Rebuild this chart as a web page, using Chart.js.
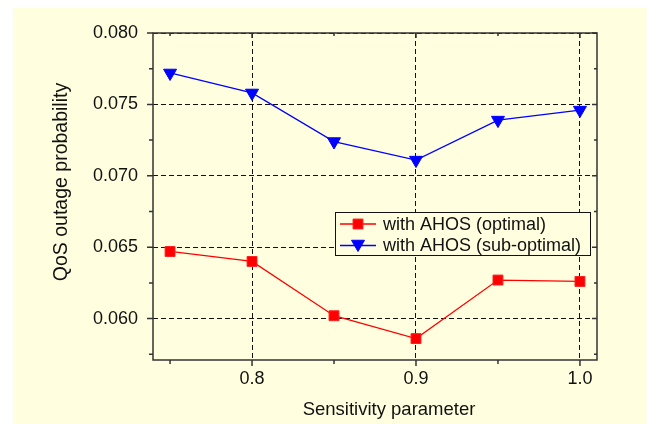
<!DOCTYPE html>
<html>
<head>
<meta charset="utf-8">
<script src="https://cdn.jsdelivr.net/npm/chart.js@4.4.1/dist/chart.umd.min.js"></script>
<style>
  body { margin: 0; background: #fff; }
  canvas { display: block; }
</style>
</head>
<body>
<canvas id="qosChart" width="647" height="424"></canvas>
<script>
const xValues = [0.75, 0.8, 0.85, 0.9, 0.95, 1.0];
const optimal = [0.0647, 0.0640, 0.0602, 0.0586, 0.0627, 0.0626];
const subOptimal = [0.0772, 0.0758, 0.0724, 0.0711, 0.0739, 0.0746];
const seriesNames = ["with AHOS (optimal)", "with AHOS (sub-optimal)"];
const xMajorTicks = [0.8, 0.9, 1.0];
const xMinorTicks = [0.75, 0.85, 0.95];
const yMajorTicks = [0.060, 0.065, 0.070, 0.075, 0.080];
const yMinorTicks = [0.0575, 0.0625, 0.0675, 0.0725, 0.0775];
const xTitle = "Sensitivity parameter";
const yTitle = "QoS outage probability";

const FONT = "'Liberation Sans', Arial, sans-serif";
const BG = "#FFFFE0";

function inList(v, list) {
    return list.some(m => Math.abs(m - v) < 1e-9);
}

function toPoints(ys) {
    return xValues.map((x, i) => ({ x: x, y: ys[i] }));
}

// yellow page, frame, tick marks, axis titles and the boxed legend
const decor = {
    id: "decor",
    beforeDraw(chart) {
        let ctx = chart.ctx;
        ctx.save();
        ctx.fillStyle = "#fff";
        ctx.fillRect(0, 0, chart.width, chart.height);
        ctx.fillStyle = BG;
        ctx.fillRect(13, 8, chart.width - 13, chart.height - 8);
        ctx.restore();
    },
    afterDraw(chart) {
        let ctx = chart.ctx;
        let a = chart.chartArea;
        let xs = chart.scales.x, ys = chart.scales.y;
        ctx.save();
        ctx.strokeStyle = "#333";
        ctx.lineWidth = 1.5;
        ctx.strokeRect(a.left, a.top, a.right - a.left, a.bottom - a.top);

        ctx.beginPath();
        xMajorTicks.concat(xMinorTicks).forEach(v => {
            let p = xs.getPixelForValue(v);
            let major = inList(v, xMajorTicks);
            ctx.moveTo(p, a.bottom); ctx.lineTo(p, a.bottom + (major ? 6 : 4));
            ctx.moveTo(p, a.top); ctx.lineTo(p, a.top + (major ? 5 : 3));
        });
        yMajorTicks.concat(yMinorTicks).forEach(v => {
            let p = ys.getPixelForValue(v);
            let major = inList(v, yMajorTicks);
            ctx.moveTo(a.left, p); ctx.lineTo(a.left - (major ? 6 : 4), p);
            ctx.moveTo(a.right, p); ctx.lineTo(a.right - (major ? 5 : 3), p);
        });
        ctx.stroke();

        // axis titles
        ctx.fillStyle = "#111";
        ctx.textAlign = "center";
        ctx.textBaseline = "alphabetic";
        ctx.font = "18.5px " + FONT;
        ctx.fillText(xTitle, 389, 415);
        ctx.translate(67, 182);
        ctx.rotate(-Math.PI / 2);
        ctx.font = "19.5px " + FONT;
        ctx.fillText(yTitle, 0, 0);
        ctx.restore();

        // legend
        ctx.save();
        let box = { x: 335.5, y: 212.5, w: 255, h: 43 };
        ctx.fillStyle = BG;
        ctx.fillRect(box.x, box.y, box.w, box.h);
        ctx.strokeStyle = "#111";
        ctx.lineWidth = 1;
        ctx.strokeRect(box.x, box.y, box.w, box.h);
        ctx.font = "18px " + FONT;
        ctx.textAlign = "left";
        ctx.textBaseline = "middle";
        chart.data.datasets.forEach((ds, i) => {
            let cy = 224 + i * 21.5;
            ctx.strokeStyle = ds.borderColor;
            ctx.lineWidth = 1.3;
            ctx.beginPath();
            ctx.moveTo(340, cy); ctx.lineTo(376, cy);
            ctx.stroke();
            ctx.fillStyle = ds.pointBackgroundColor;
            ctx.strokeStyle = ds.pointBorderColor;
            ctx.lineWidth = 1;
            Chart.helpers.drawPoint(ctx, {
                pointStyle: ds.pointStyle,
                radius: ds.pointRadius,
                rotation: ds.pointRotation,
                borderWidth: 1
            }, 358, cy + (ds.pointStyle === "triangle" ? -1.5 : 0));
            ctx.fillStyle = "#111";
            ctx.fillText(ds.label, 383, cy + 1);
        });
        ctx.restore();
    }
};

new Chart(document.getElementById("qosChart"), {
    type: "line",
    data: {
        datasets: [
            {
                label: seriesNames[0],
                data: toPoints(optimal),
                borderColor: "#FF0000",
                backgroundColor: "#FF0000",
                pointBackgroundColor: "#FF0000",
                pointBorderColor: "#FF2020",
                borderWidth: 1.3,
                pointStyle: "rect",
                pointRadius: 7,
                pointRotation: 0,
                pointBorderWidth: 1,
                tension: 0
            },
            {
                label: seriesNames[1],
                data: toPoints(subOptimal),
                borderColor: "#0000FF",
                backgroundColor: "#0000FF",
                pointBackgroundColor: "#0000FF",
                pointBorderColor: "#0000FF",
                borderWidth: 1.3,
                pointStyle: "triangle",
                pointRadius: 7.5,
                pointRotation: 180,
                pointBorderWidth: 1,
                tension: 0
            }
        ]
    },
    options: {
        responsive: false,
        animation: false,
        devicePixelRatio: 1,
        layout: { padding: { top: 33, right: 50, left: 0, bottom: 0 } },
        plugins: {
            legend: { display: false },
            tooltip: { enabled: false }
        },
        scales: {
            x: {
                type: "linear",
                min: 0.7396,
                max: 1.0104,
                afterFit: s => { s.height = 64; },
                afterBuildTicks: s => {
                    s.ticks = xMinorTicks.concat(xMajorTicks).sort((a, b) => a - b).map(v => ({ value: v }));
                },
                ticks: {
                    autoSkip: false,
                    maxRotation: 0,
                    padding: 8,
                    color: "#111",
                    font: { family: FONT, size: 18 },
                    callback: v => inList(v, xMajorTicks) ? v.toFixed(1) : ""
                },
                grid: {
                    drawTicks: false,
                    lineWidth: 1,
                    color: c => c.tick && inList(c.tick.value, xMajorTicks) ? "#111" : "rgba(0,0,0,0)"
                },
                border: { display: false, dash: [5, 3] }
            },
            y: {
                type: "linear",
                min: 0.0571,
                max: 0.080,
                afterFit: s => { s.width = 153; },
                afterBuildTicks: s => {
                    s.ticks = yMinorTicks.concat(yMajorTicks).sort((a, b) => a - b).map(v => ({ value: v }));
                },
                ticks: {
                    autoSkip: false,
                    padding: 15,
                    color: "#111",
                    font: { family: FONT, size: 18 },
                    callback: v => inList(v, yMajorTicks) ? v.toFixed(3) : ""
                },
                grid: {
                    drawTicks: false,
                    lineWidth: 1,
                    color: c => c.tick && inList(c.tick.value, yMajorTicks) ? "#111" : "rgba(0,0,0,0)"
                },
                border: { display: false, dash: [5, 3] }
            }
        }
    },
    plugins: [decor]
});
</script>
</body>
</html>
